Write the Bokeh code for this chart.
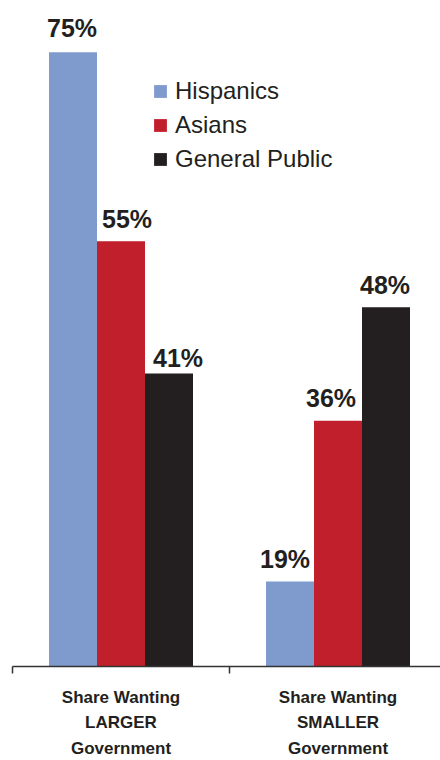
from bokeh.plotting import figure
from bokeh.models import ColumnDataSource, FixedTicker, Legend, LegendItem, Range1d
from bokeh.core.properties import value
from bokeh.embed import file_html
from bokeh.resources import INLINE

# ---- data ----
categories = ["Share Wanting\nLARGER\nGovernment", "Share Wanting\nSMALLER\nGovernment"]
series = ["Hispanics", "Asians", "General Public"]
hispanics = [75, 19]
asians = [55, 36]
general_public = [41, 48]

# ---- style ----
colors = ["#7f9acc", "#c01f2b", "#231f20"]
FONT = "Liberation Sans"
label_dx = {"Hispanics": [-1, -5], "Asians": [6, -7], "General Public": [9, -1]}
label_dy = {"Hispanics": [-24, -22], "Asians": [-22, -23], "General Public": [-16, -22]}

px_per_unit = 217.0
bar_w = 48 / px_per_unit
centers = [i + 0.5 for i in range(len(categories))]
offsets = [-bar_w, 0.0, bar_w]

p = figure(width=440, height=760,
           x_range=Range1d(0, 428 / px_per_unit), y_range=Range1d(10, 80.47),
           output_backend="svg", toolbar_location=None, y_axis_location=None,
           min_border_left=12, min_border_right=0, min_border_top=0, min_border_bottom=94)
p.xgrid.visible = False
p.ygrid.visible = False
p.outline_line_color = None
p.background_fill_color = "white"
p.border_fill_color = "white"

items = []
for name, vals, col, off in zip(series, [hispanics, asians, general_public], colors, offsets):
    src = ColumnDataSource(dict(x=[c + off for c in centers], top=vals,
                                lab=[f"{v}%" for v in vals],
                                dx=label_dx[name], dy=label_dy[name]))
    r = p.vbar(x="x", top="top", bottom=0, width=bar_w, source=src,
               fill_color=col, line_color=None)
    p.text(x="x", y="top", text="lab", source=src, x_offset="dx", y_offset="dy",
           text_align="center", text_baseline="alphabetic",
           text_font=value(FONT), text_font_style="bold",
           text_font_size="25px", text_color="#231f20")
    items.append(LegendItem(label=name, renderers=[r]))

legend = Legend(items=items, location=(140, 490), orientation="vertical",
                glyph_width=16, glyph_height=16, label_height=34, spacing=0,
                label_standoff=7, padding=0, margin=0,
                label_text_font=FONT, label_text_font_size="24px",
                label_text_color="#231f20", border_line_color=None,
                background_fill_alpha=0)
p.add_layout(legend)

ax = p.xaxis[0]
ax.ticker = FixedTicker(ticks=centers, minor_ticks=[0, 1, 2])
ax.major_label_overrides = {c: cat for c, cat in zip(centers, categories)}
ax.major_tick_in = 0
ax.major_tick_out = 0
ax.minor_tick_in = 0
ax.minor_tick_out = 7
ax.minor_tick_line_color = "#333333"
ax.minor_tick_line_width = 1.5
ax.axis_line_color = "#333333"
ax.axis_line_width = 1.5
ax.major_label_standoff = 14
ax.major_label_text_font = FONT
ax.major_label_text_font_style = "bold"
ax.major_label_text_font_size = "17px"
ax.major_label_text_line_height = 1.35
ax.major_label_text_color = "#231f20"

open("out.html", "w").write(file_html(p, INLINE))
